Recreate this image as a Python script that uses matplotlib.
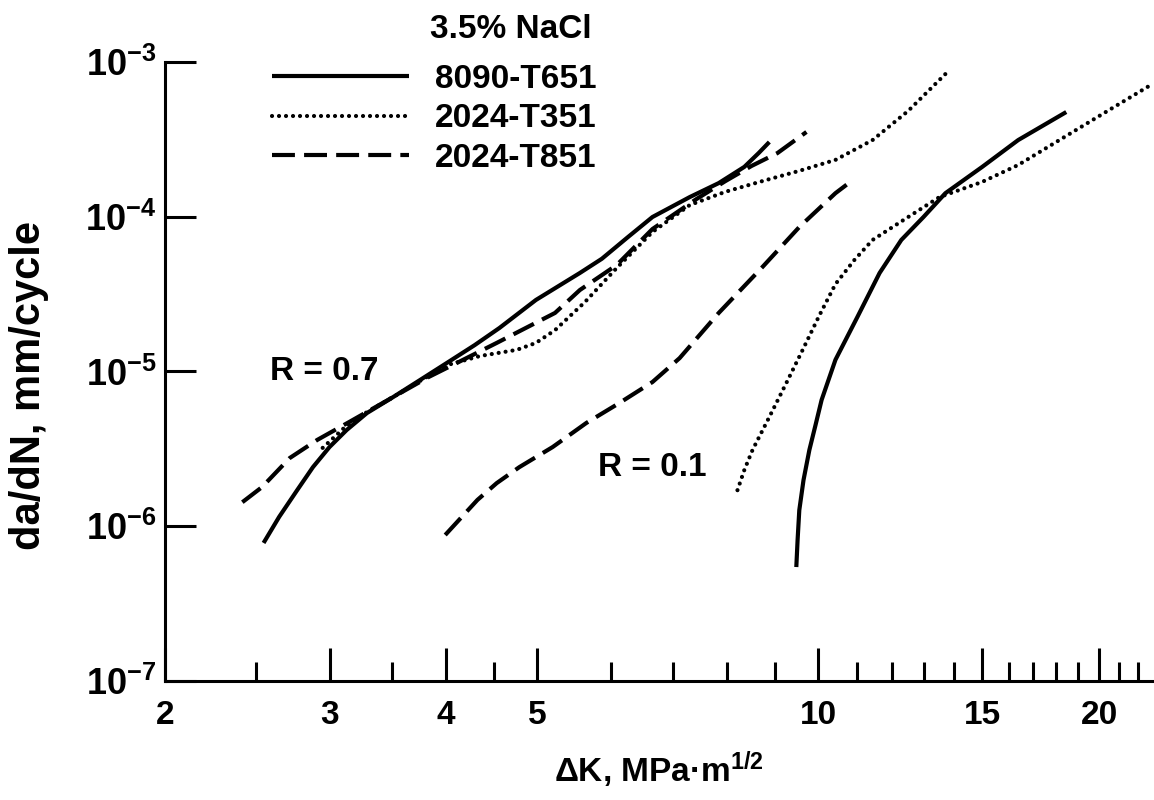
import numpy as np
import matplotlib
matplotlib.use("Agg")
import matplotlib.pyplot as plt
from matplotlib.ticker import FixedLocator, NullFormatter, NullLocator

plt.rcParams['font.family'] = ['Liberation Sans', 'DejaVu Sans']
plt.rcParams['font.weight'] = 'bold'
plt.rcParams['axes.labelweight'] = 'bold'
plt.rcParams['mathtext.fontset'] = 'custom'
plt.rcParams['mathtext.rm'] = 'Liberation Sans:bold'
plt.rcParams['mathtext.it'] = 'Liberation Sans:bold'
plt.rcParams['mathtext.bf'] = 'Liberation Sans:bold'

# R = 0.7 curves (dK in MPa m^1/2, da/dN in mm/cycle)
dk_8090_r07 = [2.55, 2.65, 2.77, 2.88, 3.00, 3.13, 3.29, 3.51, 3.75, 4.01, 4.29,
               4.56, 4.99, 5.56, 5.87, 6.26, 6.65, 7.29, 7.83, 8.34, 8.64, 8.87]
da_8090_r07 = [7.8e-7, 1.15e-6, 1.71e-6, 2.41e-6, 3.25e-6, 4.19e-6, 5.39e-6, 6.84e-6,
               8.81e-6, 1.14e-5, 1.48e-5, 1.91e-5, 2.90e-5, 4.33e-5, 5.35e-5, 7.39e-5,
               9.96e-5, 1.34e-4, 1.65e-4, 2.10e-4, 2.58e-4, 3.04e-4]

dk_t351_r07 = [2.95, 3.11, 3.29, 3.51, 3.75, 4.01, 4.35, 4.76, 4.99, 5.23, 5.63,
               6.09, 6.65, 7.29, 7.96, 8.72, 9.55, 10.44, 11.44, 12.49, 13.76]
da_t351_r07 = [3.21e-6, 4.32e-6, 5.47e-6, 6.84e-6, 8.69e-6, 1.10e-5, 1.26e-5, 1.38e-5,
               1.53e-5, 1.85e-5, 2.81e-5, 4.67e-5, 7.97e-5, 1.19e-4, 1.45e-4, 1.70e-4,
               1.98e-4, 2.33e-4, 3.13e-4, 4.83e-4, 8.62e-4]

dk_t851_r07 = [2.42, 2.54, 2.72, 2.91, 3.15, 3.51, 3.83, 4.17, 4.53, 5.23, 5.56,
               6.09, 6.65, 7.41, 7.96, 8.49, 9.05, 9.72]
da_t851_r07 = [1.43e-6, 1.79e-6, 2.76e-6, 3.61e-6, 4.72e-6, 6.84e-6, 9.21e-6, 1.19e-5,
               1.53e-5, 2.39e-5, 3.36e-5, 4.88e-5, 8.33e-5, 1.30e-4, 1.70e-4, 2.13e-4,
               2.58e-4, 3.53e-4]

# R = 0.1 curves
dk_8090_r01 = [9.48, 9.51, 9.55, 9.65, 9.79, 9.94, 10.09, 10.44, 11.02, 11.64, 12.28,
               12.97, 13.69, 14.99, 16.38, 18.44]
da_8090_r01 = [5.45e-7, 8.15e-7, 1.27e-6, 1.99e-6, 3.11e-6, 4.51e-6, 6.55e-6, 1.19e-5,
               2.25e-5, 4.33e-5, 7.08e-5, 9.96e-5, 1.42e-4, 2.10e-4, 3.13e-4, 4.75e-4]

dk_t351_r01 = [8.20, 8.34, 8.51, 8.87, 9.25, 9.63, 10.04, 10.44, 10.94, 11.44, 12.49,
               13.49, 14.99, 16.38, 18.35, 20.50, 22.62]
da_t351_r01 = [1.71e-6, 2.31e-6, 3.11e-6, 5.08e-6, 8.43e-6, 1.38e-5, 2.32e-5, 3.67e-5,
               5.26e-5, 7.08e-5, 9.96e-5, 1.34e-4, 1.68e-4, 2.16e-4, 3.27e-4, 4.90e-4, 7.0e-4]

dk_t851_r01 = [3.99, 4.32, 4.53, 4.79, 5.20, 5.65, 6.13, 6.65, 7.11, 7.83, 8.72, 9.55,
               10.44, 10.83]
da_t851_r01 = [8.78e-7, 1.48e-6, 1.90e-6, 2.41e-6, 3.25e-6, 4.65e-6, 6.26e-6, 8.55e-6,
               1.22e-5, 2.39e-5, 4.73e-5, 8.58e-5, 1.42e-4, 1.68e-4]

x_major = [2, 3, 4, 5, 10, 15, 20]
x_minor = [2.5, 3.5, 4.5, 6, 7, 8, 9, 11, 12, 13, 14, 16, 17, 18, 19, 21, 22]
y_major = [1e-7, 1e-6, 1e-5, 1e-4, 1e-3]
y_labels = [r'$10^{-7}$', r'$10^{-6}$', r'$10^{-5}$', r'$10^{-4}$', r'$10^{-3}$']

lw = 3
solid = dict(color='black', lw=lw, ls='-', solid_capstyle='butt')
dotted = dict(color='black', lw=lw, ls=(0, (0.01, 1.67)), dash_capstyle='round')
dashed = dict(color='black', lw=lw, ls=(0, (5.5, 2.2)), dash_capstyle='butt')

fig = plt.figure(figsize=(11.54, 8), dpi=100)
ax = fig.add_axes([165/1154, 119/800, 987/1154, 619/800])

ax.plot(dk_8090_r07, da_8090_r07, label='8090-T651', **solid)
ax.plot(dk_t351_r07, da_t351_r07, label='2024-T351', **dotted)
ax.plot(dk_t851_r07, da_t851_r07, label='2024-T851', **dashed)
ax.plot(dk_8090_r01, da_8090_r01, **solid)
ax.plot(dk_t351_r01, da_t351_r01, **dotted)
ax.plot(dk_t851_r01, da_t851_r01, **dashed)

ax.set_xscale('log')
ax.set_yscale('log')
ax.set_xlim(2, 22.78)
ax.set_ylim(1e-7, 1e-3)

ax.xaxis.set_major_locator(FixedLocator(x_major))
ax.xaxis.set_minor_locator(FixedLocator(x_minor))
ax.set_xticklabels([str(v) for v in x_major])
ax.xaxis.set_minor_formatter(NullFormatter())
ax.yaxis.set_major_locator(FixedLocator(y_major))
ax.yaxis.set_minor_locator(NullLocator())
ax.set_yticklabels(y_labels)

ax.tick_params(axis='both', which='major', direction='in', width=2.2)
ax.tick_params(axis='x', which='major', length=24, pad=14, labelsize=24)
ax.tick_params(axis='x', which='minor', direction='in', width=2.2, length=14)
ax.tick_params(axis='y', which='major', length=22, pad=6, labelsize=26)

for s in ['top', 'right']:
    ax.spines[s].set_visible(False)
for s in ['left', 'bottom']:
    ax.spines[s].set_linewidth(2.2)

ax.set_xlabel('\u0394K, MPa\u00b7m$^{1/2}$', fontsize=24, labelpad=13)
ax.set_ylabel('da/dN, mm/cycle', fontsize=30)
ax.yaxis.set_label_coords(-0.118, 0.477)

ax.text(2.59, 1e-5, 'R = 0.7', fontsize=24, ha='left', va='center')
ax.text(5.81, 2.38e-6, 'R = 0.1', fontsize=24, ha='left', va='center')

fig.text(430/1154, 1 - 30/800, '3.5% NaCl', fontsize=24, ha='left', va='center')
ax.legend(loc='upper left', bbox_to_anchor=(272/1154, 1 - 64/800),
          bbox_transform=fig.transFigure, frameon=False, borderpad=0,
          borderaxespad=0, handlelength=4.1, handletextpad=0.8,
          labelspacing=0.25, fontsize=24)

fig.savefig('out.png', dpi=100)
